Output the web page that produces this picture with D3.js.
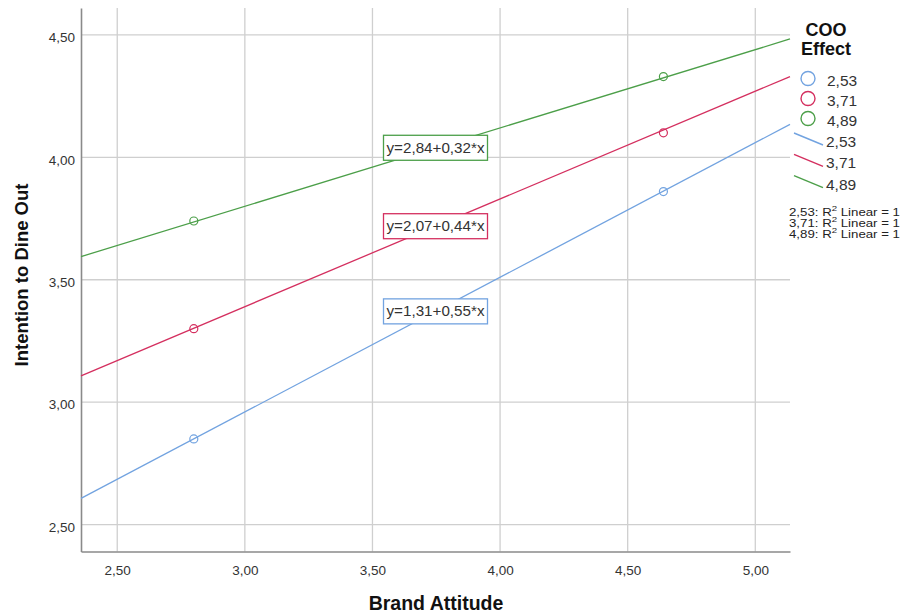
<!DOCTYPE html>
<html>
<head>
<meta charset="utf-8">
<script src="https://cdn.jsdelivr.net/npm/d3@7"></script>
<style>
  body { margin: 0; background: #fff; }
  svg { font-family: "Liberation Sans", Arial, sans-serif; }
</style>
</head>
<body>
<svg id="chart" width="902" height="615"></svg>
<script>
// chart values
var cooLevels = ["2,53", "3,71", "4,89"];
var intercepts = [1.31, 2.07, 2.84];
var slopes = [0.55, 0.44, 0.32];
var pointX = [2.80, 4.64];
var pointY = [[2.85, 3.86], [3.30, 4.10], [3.74, 4.33]];
var xTicks = [2.5, 3.0, 3.5, 4.0, 4.5, 5.0];
var yTicks = [2.5, 3.0, 3.5, 4.0, 4.5];
var colors = ["#72a3e0", "#d42f5f", "#4c9f49"];

var loc = d3.formatLocale({ decimal: ",", thousands: ".", grouping: [3], currency: ["", ""] });
var fmt = loc.format(".2f");

var margin = { top: 8, right: 112, bottom: 63.5, left: 81 };
var width = 902, height = 615;

var x = d3.scaleLinear().domain([2.358, 5.136]).range([margin.left, width - margin.right]);
var y = d3.scaleLinear().domain([2.39, 4.61]).range([height - margin.bottom, margin.top]);

var svg = d3.select("#chart");

// grid
svg.append("g").selectAll("line").data(xTicks).enter().append("line")
  .attr("x1", d => x(d)).attr("x2", d => x(d))
  .attr("y1", margin.top).attr("y2", height - margin.bottom)
  .attr("stroke", "#cfcfcf").attr("stroke-width", 1.3);
svg.append("g").selectAll("line").data(yTicks).enter().append("line")
  .attr("y1", d => y(d)).attr("y2", d => y(d))
  .attr("x1", margin.left).attr("x2", width - margin.right)
  .attr("stroke", "#cfcfcf").attr("stroke-width", 1.3);

// axes
var xAxis = svg.append("g")
  .attr("transform", "translate(0," + (height - margin.bottom) + ")")
  .call(d3.axisBottom(x).tickValues(xTicks).tickFormat(fmt).tickSize(0).tickPadding(14));
xAxis.select(".domain").attr("stroke", "#8a8a8a").attr("stroke-width", 1.6);
xAxis.selectAll("text").attr("font-size", "13.5px").attr("fill", "#333")
  .attr("font-family", "Liberation Sans, Arial, sans-serif");

var yAxis = svg.append("g")
  .attr("transform", "translate(" + margin.left + ",0)")
  .call(d3.axisLeft(y).tickValues(yTicks).tickFormat(fmt).tickSize(0).tickPadding(6));
yAxis.select(".domain").attr("stroke", "#8a8a8a").attr("stroke-width", 1.6);
yAxis.selectAll("text").attr("font-size", "13.5px").attr("fill", "#333").attr("dy", "0.5em")
  .attr("font-family", "Liberation Sans, Arial, sans-serif");

// fit lines
var x0 = x.domain()[0], x1 = x.domain()[1];
var lineGen = d3.line().x(d => x(d[0])).y(d => y(d[1]));
cooLevels.forEach(function(lvl, i) {
  var pts = [[x0, intercepts[i] + slopes[i] * x0], [x1, intercepts[i] + slopes[i] * x1]];
  svg.append("path").datum(pts).attr("d", lineGen)
    .attr("fill", "none").attr("stroke", colors[i]).attr("stroke-width", 1.3);
  svg.append("g").selectAll("circle").data(pointX).enter().append("circle")
    .attr("cx", d => x(d)).attr("cy", (d, j) => y(pointY[i][j]))
    .attr("r", 4).attr("fill", "none").attr("stroke", colors[i]).attr("stroke-width", 1.2);
});

// equation labels, at the middle of the x range
var xm = (x0 + x1) / 2;
cooLevels.forEach(function(lvl, i) {
  var cy = y(intercepts[i] + slopes[i] * xm), cx = x(xm);
  var g = svg.append("g");
  g.append("rect").attr("x", cx - 52).attr("y", cy - 12.5).attr("width", 104).attr("height", 25)
    .attr("fill", "#fff").attr("stroke", colors[i]).attr("stroke-width", 1.3);
  g.append("text").attr("x", cx).attr("y", cy + 5).attr("text-anchor", "middle")
    .attr("font-size", "14px").attr("fill", "#333")
    .attr("textLength", 98).attr("lengthAdjust", "spacingAndGlyphs")
    .text("y=" + fmt(intercepts[i]) + "+" + fmt(slopes[i]) + "*x");
});

// axis titles
svg.append("text").attr("x", 436).attr("y", 610).attr("text-anchor", "middle")
  .attr("font-size", "19.5px").attr("font-weight", "bold").attr("fill", "#111").text("Brand Attitude");
svg.append("text").attr("transform", "translate(28,275) rotate(-90)").attr("text-anchor", "middle")
  .attr("font-size", "18.5px").attr("font-weight", "bold").attr("fill", "#111").text("Intention to Dine Out");

// legend
var lg = svg.append("g");
lg.append("text").attr("x", 826).attr("y", 36).attr("text-anchor", "middle")
  .attr("font-size", "18px").attr("font-weight", "bold").attr("fill", "#111").text("COO");
lg.append("text").attr("x", 826).attr("y", 55).attr("text-anchor", "middle")
  .attr("font-size", "18px").attr("font-weight", "bold").attr("fill", "#111").text("Effect");
cooLevels.forEach(function(lvl, i) {
  var cy = 78.5 + i * 20;
  lg.append("circle").attr("cx", 808).attr("cy", cy).attr("r", 7)
    .attr("fill", "none").attr("stroke", colors[i]).attr("stroke-width", 1.4);
  lg.append("text").attr("x", 827).attr("y", cy + 7).attr("font-size", "15.5px").attr("fill", "#333").text(lvl);
});
cooLevels.forEach(function(lvl, i) {
  var by = 147 + i * 21.3;
  lg.append("line").attr("x1", 794).attr("y1", by - 14).attr("x2", 823).attr("y2", by - 2)
    .attr("stroke", colors[i]).attr("stroke-width", 1.4);
  lg.append("text").attr("x", 826).attr("y", by).attr("font-size", "15.5px").attr("fill", "#333").text(lvl);
});
cooLevels.forEach(function(lvl, i) {
  var t = lg.append("text").attr("x", 789).attr("y", 216 + i * 11)
    .attr("font-size", "11px").attr("fill", "#222")
    .attr("textLength", 111).attr("lengthAdjust", "spacingAndGlyphs");
  t.append("tspan").text(lvl + ": R");
  t.append("tspan").attr("font-size", "8px").attr("dy", -5).text("2");
  t.append("tspan").attr("dy", 5).text(" Linear = 1");
});
</script>
</body>
</html>
